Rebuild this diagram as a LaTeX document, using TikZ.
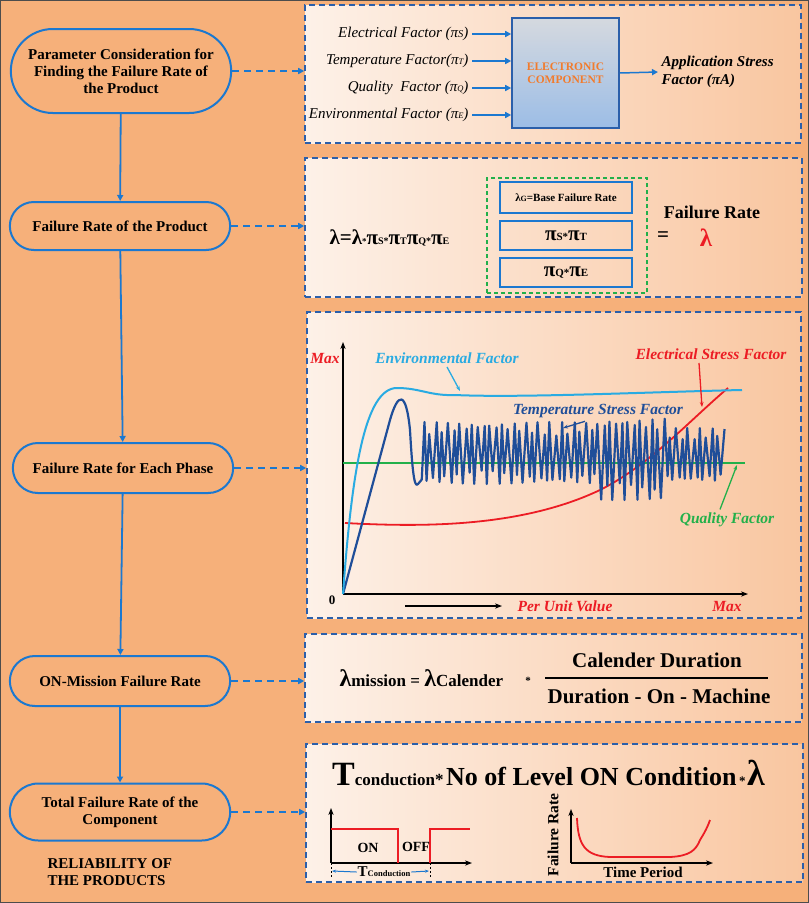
\documentclass[tikz,border=0pt]{standalone}
\usepackage{fontspec}
\setmainfont{Liberation Serif}
\usepackage{xcolor}
\usepackage{tikz}
\usetikzlibrary{shapes.misc,arrows.meta}

\definecolor{bgorange}{HTML}{F6B07A}
\definecolor{panelblue}{HTML}{2B5FAA}
\definecolor{ovalblue}{HTML}{1B78D0}
\definecolor{peachlight}{HTML}{FDF1E8}
\definecolor{peachdark}{HTML}{F9C6A0}
\definecolor{envblue}{HTML}{29ABE2}
\definecolor{tempblue}{HTML}{1F4E99}
\definecolor{qgreen}{HTML}{22B04A}
\definecolor{ered}{HTML}{EC1C24}
\definecolor{compgray}{HTML}{D5D9DF}
\definecolor{compblue}{HTML}{9CBDE6}
\definecolor{comporange}{HTML}{F27B2C}

\newcommand{\fsz}[2]{{\fontsize{#1}{#1}\selectfont #2}}

\tikzset{
  stage/.style={rounded rectangle, draw=ovalblue, line width=2pt, fill=bgorange, font=\bfseries\fontsize{15}{17}\selectfont, align=center, minimum width=227pt},
  panel/.style={draw=panelblue, line width=1.6pt, dash pattern=on 6pt off 4pt, left color=peachlight, right color=peachdark, inner sep=0pt},
  flow/.style={ovalblue, line width=1.8pt, -{Triangle[length=6pt,width=6pt]}},
  link/.style={ovalblue, line width=1.6pt, dash pattern=on 7pt off 5pt, -{Triangle[length=6pt,width=6pt]}},
  factor/.style={anchor=east, font=\itshape\fontsize{15}{17}\selectfont},
  subbox/.style={draw=ovalblue, line width=1.8pt, minimum width=132pt, font=\bfseries},
  glabel/.style={font=\bfseries\itshape\fontsize{15.5}{17}\selectfont},
  pointer/.style={line width=1.3pt, -{Stealth[length=5pt]}},
  axis/.style={black, line width=1.5pt, -{Stealth[length=7pt]}},
}

\begin{document}
\begin{tikzpicture}[x=1pt,y=-1pt]
\useasboundingbox (0,0) rectangle (809,903);
\fill[bgorange] (0,0) rectangle (809,903);
\draw[black!70, line width=1pt] (0.5,0.5) rectangle (808.5,902.5);

\node[stage, minimum height=84pt] (param) at (121,71) {Parameter Consideration for\\Finding the Failure Rate of\\the Product};
\node[stage, minimum height=48pt] (rate) at (120,226) {Failure Rate of the Product};
\node[stage, minimum height=50pt] (phase) at (123,468) {Failure Rate for Each Phase};
\node[stage, minimum height=50pt] (mission) at (120,681) {ON-Mission Failure Rate};
\node[stage, minimum height=57pt] (total) at (120,812) {Total Failure Rate of the\\Component};
\node[anchor=west, align=left, font=\bfseries\fontsize{15}{17}\selectfont] (reliab) at (44,872) {RELIABILITY OF\\THE PRODUCTS};

\draw[flow] (param) -- (rate);
\draw[flow] (rate) -- (phase);
\draw[flow] (phase) -- (mission);
\draw[flow] (mission) -- (total);

\node[panel, minimum width=496pt, minimum height=138pt] (box1) at (553,74) {};
\node[panel, minimum width=497pt, minimum height=139pt] (box2) at (553.5,227.5) {};
\node[panel, minimum width=494pt, minimum height=306pt] (box3) at (554,465) {};
\node[panel, minimum width=497pt, minimum height=88pt] (box4) at (553.5,678) {};
\node[panel, minimum width=497pt, minimum height=138pt] (box5) at (554.5,813) {};

\draw[link] (param.east) -- (param.east -| box1.west);
\draw[link] (rate.east) -- (rate.east -| box2.west);
\draw[link] (phase.east) -- (phase.east -| box3.west);
\draw[link] (mission.east) -- (mission.east -| box4.west);
\draw[link] (total.east) -- (total.east -| box5.west);

% box 1
\node[draw=panelblue, line width=1.6pt, top color=compgray, bottom color=compblue, minimum width=107pt, minimum height=110pt, font=\bfseries\fontsize{11.5}{13}\selectfont, text=comporange, align=center] (comp) at (565.5,73) {ELECTRONIC\\COMPONENT};
\node[factor] (fs) at (472,34) {Electrical Factor (π\fsz{10.5}{S})};
\node[factor] (ft) at (472,61) {Temperature Factor(π\fsz{8.5}{T})};
\node[factor] (fq) at (472,88) {Quality\ \ Factor (π\fsz{8.5}{Q})};
\node[factor] (fe) at (472,115) {Environmental Factor (π\fsz{8.5}{E})};
\foreach \f in {fs,ft,fq,fe}
  \draw[flow, line width=1.5pt] (\f.east) -- (\f.east -| comp.west);
\node[anchor=west, align=left, font=\bfseries\itshape\fontsize{15}{18}\selectfont] (app) at (658,72) {Application Stress\\Factor (πA)};
\draw[flow, line width=1.5pt] (comp.east) -- (app.west);

% box 2
\node[anchor=west, font=\bfseries] (lam) at (326,238) {\fsz{21}{λ=λ}\fsz{9}{*}\fsz{21}{π}\fsz{10}{S*}\fsz{21}{π}\fsz{10}{T}\fsz{21}{π}\fsz{10}{Q*}\fsz{21}{π}\fsz{10}{E}};
\node[draw=qgreen, line width=1.4pt, dash pattern=on 4pt off 3pt, minimum width=160pt, minimum height=115pt] (gbox) at (567,235.5) {};
\node[subbox, minimum height=31pt] (r1) at (566,197.5) {\fsz{11}{λ\fsz{8}{G}=Base Failure Rate}};
\node[subbox, minimum height=29pt] (r2) at (566,235.5) {\fsz{21}{π}\fsz{11}{S*}\fsz{21}{π}\fsz{11}{T}};
\node[subbox, minimum height=29pt] (r3) at (566,272.5) {\fsz{21}{π}\fsz{11}{Q*}\fsz{21}{π}\fsz{11}{E}};
\node[font=\bfseries\fontsize{18}{20}\selectfont] (frate) at (712,212) {Failure Rate};
\node[font=\bfseries\fontsize{21}{22}\selectfont] (eq) at (663,237) {=};
\node[font=\bfseries\fontsize{25}{26}\selectfont, text=ered] (lamred) at (706,238) {λ};

% box 3
\coordinate (o) at (343,594);
\draw[axis] (o) -- (343,342);
\draw[axis] (o) -- (748,594);
\node[glabel, text=ered] (ymax) at (325,358) {Max};
\node[font=\bfseries\fontsize{13}{14}\selectfont] (zero) at (332,600) {0};
\node[glabel, text=ered] (punit) at (565,606) {Per Unit Value};
\node[glabel, text=ered] (xmax) at (727,606) {Max};
\coordinate (pa) at (405,606);
\coordinate (pb) at (502,606);
\draw[axis] (pa) -- (pb);

\draw[qgreen, line width=1.8pt] (o |- 0,463) -- (745,463);
\draw[ered, line width=1.8pt] (345,523) .. controls (420,527) and (520,528) .. (600,490) .. controls (650,465) and (690,420) .. (728,388);
\draw[tempblue, line width=2.2pt, line join=round] (o) -- (390,420) .. controls (398,392) and (406,390) .. (410,430) .. controls (412,465) and (414,490) .. (418,484)
  \foreach \i in {1,...,60} { -- ({418+3*\i+0.8*sin(\i*71)}, {453+(2*isodd(\i)-1)*(17+14*abs(sin(\i*137)))}) }
  \foreach \i in {61,...,82} { -- ({418+3*\i+0.8*sin(\i*71)}, {459+(2*isodd(\i)-1)*(24+17*abs(sin(\i*137)))}) }
  \foreach \i in {83,...,102} { -- ({418+3*\i+0.8*sin(\i*71)}, {455+(2*isodd(\i)-1)*(15+12*abs(sin(\i*137)))}) };
\draw[envblue, line width=2pt] (o) .. controls (352,470) and (365,388) .. (397,388) .. controls (420,388) and (430,396) .. (455,395) .. controls (520,398) and (650,392) .. (742,390);

\node[glabel, text=envblue] (envlbl) at (447,358) {Environmental Factor};
\node[glabel, text=tempblue] (templbl) at (598,411) {Temperature Stress Factor};
\node[glabel, text=ered] (eleclbl) at (711,354) {Electrical Stress Factor};
\node[glabel, text=qgreen] (qlbl) at (727,520) {Quality Factor};
\coordinate (envpt) at (460,391);
\coordinate (temppt) at (563,428);
\coordinate (elecpt) at (702,407);
\coordinate (qpt) at (737,465);
\draw[pointer, envblue] (envlbl.south) -- (envpt);
\draw[pointer, tempblue] ([xshift=-13pt]templbl.south) -- (temppt);
\draw[pointer, ered] ([xshift=-12pt]eleclbl.south) -- (elecpt);
\draw[pointer, qgreen] ([xshift=-7pt]qlbl.north) -- (qpt);

% box 4
\node[anchor=west, font=\bfseries] (lmis) at (336,678) {\fsz{24}{λ}\fsz{17}{mission = }\fsz{24}{λ}\fsz{17}{Calender}};
\node[font=\bfseries\fontsize{11}{12}\selectfont] (star) at (528,681) {*};
\node[font=\bfseries\fontsize{21}{22}\selectfont] (num) at (657,660) {Calender Duration};
\node[font=\bfseries\fontsize{21}{22}\selectfont] (den) at (659,696) {Duration - On - Machine};
\draw[black, line width=1.6pt] (545,678) -- (768,678);

% box 5
\node[anchor=base west, font=\bfseries, inner sep=0pt] (cond) at (332,785) {\fsz{34}{T}\fsz{17}{conduction*} \fsz{26}{No of Level ON Condition} \fsz{13}{*}\,\fsz{36}{λ}};

\coordinate (o1) at (331,863);
\draw[axis, line width=1.4pt] (o1) -- (331,808);
\draw[axis, line width=1.4pt] (o1) -- (472,863);
\draw[ered, line width=1.8pt] (331,829) -- (398,829) -- (398,863);
\draw[ered, line width=1.8pt] (430,863) -- (430,829) -- (470,829);
\node[font=\bfseries\fontsize{14}{15}\selectfont] (on) at (368,848) {ON};
\node[font=\bfseries\fontsize{14}{15}\selectfont] (off) at (416,847) {OFF};
\draw[black, line width=0.8pt, dash pattern=on 2pt off 2pt] (331,863) -- (331,878);
\draw[black, line width=0.8pt, dash pattern=on 2pt off 2pt] (430,863) -- (430,878);
\node[font=\bfseries, inner sep=1pt] (tcond) at (384,872) {\fsz{15}{T}\fsz{8.5}{Conduction}};
\coordinate (tl) at (332,871);
\coordinate (tr) at (429,871);
\draw[ovalblue, line width=1pt, -{Stealth[length=4pt]}] (tcond.west) -- (tl);
\draw[ovalblue, line width=1pt, -{Stealth[length=4pt]}] (tcond.east) -- (tr);

\coordinate (o2) at (571,863);
\draw[axis, line width=1.4pt] (o2) -- (571,809);
\draw[axis, line width=1.4pt] (o2) -- (713,863);
\node[rotate=90, font=\bfseries\fontsize{15.5}{17}\selectfont] (frl) at (553,835) {Failure Rate};
\node[font=\bfseries\fontsize{15}{16}\selectfont] (tper) at (643,872) {Time Period};
\draw[ered, line width=1.8pt] (577,818) .. controls (578,845) and (585,856) .. (610,857) -- (670,857) .. controls (690,856) and (696,850) .. (700,840) .. controls (705,832) and (708,826) .. (710,820);
\end{tikzpicture}
\end{document}
